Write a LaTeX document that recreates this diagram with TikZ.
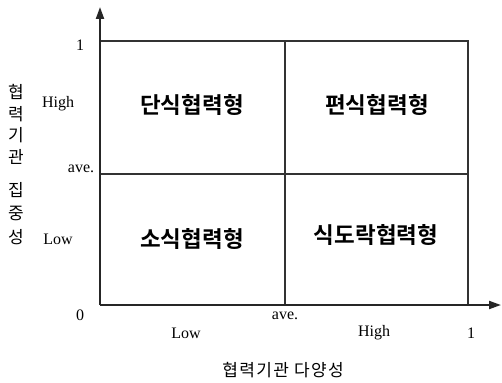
\documentclass[tikz,border=0pt]{standalone}
\usepackage{fontspec}
\setmainfont{Liberation Serif}
\newfontfamily\kr{Noto Sans CJK KR}
\newfontfamily\krb{Noto Sans CJK KR Bold}
\newfontfamily\krs[LetterSpace=8]{Noto Sans CJK KR}
\usetikzlibrary{arrows.meta}
\begin{document}
\begin{tikzpicture}[x=1pt,y=-1pt,
  axis/.style={line width=2pt,draw=black!85,-{Triangle[length=12pt,width=8pt]}},
  grid/.style={line width=1.1pt,draw=black!80},
  tick/.style={font=\fontsize{16}{16}\selectfont,inner sep=0pt},
  quad/.style={font=\krb\fontsize{22.5}{22.5}\selectfont,inner sep=0pt},
  vlab/.style={font=\kr\fontsize{17}{17}\selectfont,inner sep=0pt},
  hlab/.style={font=\krs\fontsize{17}{17}\selectfont,inner sep=0pt}]
\useasboundingbox (0,0) rectangle (502,382);
\coordinate (O) at (100,305);
\coordinate (ytip) at (100,7);
\coordinate (xtip) at (501,305);
\coordinate (TL) at (100,41);
\coordinate (TR) at (468,41);
\coordinate (TM) at (285,41);
\coordinate (BM) at (285,305);
\coordinate (BR) at (468,305);
\coordinate (ML) at (100,174);
\coordinate (MR) at (468,174);
\draw[grid] (TL) -- (TR) -- (BR);
\draw[grid] (TM) -- (BM);
\draw[grid] (ML) -- (MR);
\draw[axis] (O) -- (ytip);
\draw[axis] (O) -- (xtip);
\node[quad] (q1) at (192,105) {단식협력형};
\node[quad] (q2) at (377,105) {편식협력형};
\node[quad] (q3) at (192,239) {소식협력형};
\node[quad] (q4) at (376,235) {식도락협력형};
\node[tick] (y1) at (80,45) {1};
\node[tick] (yh) at (58,104) {High};
\node[tick] (ya) at (81,169) {ave.};
\node[tick] (yl) at (58,239) {Low};
\node[tick] (y0) at (80,315) {0};
\node[tick] (xl) at (186,333) {Low};
\node[tick] (xa) at (285,316) {ave.};
\node[tick] (xh) at (374,333) {High};
\node[tick] (x1) at (471,333) {1};
\node[hlab] (xt) at (283,370) {협력기관 다양성};
\node[vlab] (v1) at (16,92) {협};
\node[vlab] (v2) at (16,114) {력};
\node[vlab] (v3) at (16,135) {기};
\node[vlab] (v4) at (16,157) {관};
\node[vlab] (v5) at (16,190) {집};
\node[vlab] (v6) at (16,213) {중};
\node[vlab] (v7) at (16,237) {성};
\end{tikzpicture}
\end{document}
